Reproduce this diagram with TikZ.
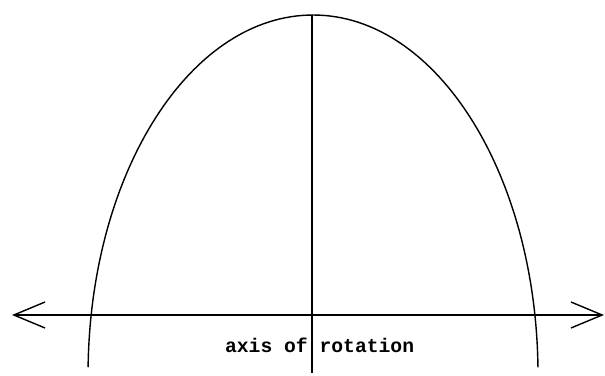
\documentclass[tikz,border=0pt]{standalone}
\usepackage{fontspec}
\setmonofont{Liberation Mono}
\usetikzlibrary{arrows.meta, positioning}

\begin{document}
\begin{tikzpicture}[
  line/.style={line width=1pt, draw=black},
  curve/.style={line, line cap=round},
  arrow/.style={line, {Straight Barb[length=7.8mm, width=6.5mm]}-{Straight Barb[length=7.8mm, width=6.5mm]}},
  caption/.style={font=\ttfamily\bfseries\fontsize{14}{16}\selectfont, inner sep=0pt, anchor=base}
]
\useasboundingbox (0,0) rectangle (15.125,9.375);

% Axis end points
\coordinate (left)   at (0.3, 1.5);
\coordinate (right)  at (15.1, 1.5);
\coordinate (top)    at (7.8, 9.0);
\coordinate (bottom) at (7.8, 0.05);
\coordinate (rim)    at (13.449, 0.204);

% Label under the axis
\node[caption] (label) at (7.99, 0.575) {axis of rotation};

% Curve: half ellipse over the axis
\draw[curve] (rim) arc[start angle=1.3, end angle=178.7, x radius=5.625, y radius=9];

% Vertical line through the top
\draw[line] (top) -- (bottom);

% Double arrow: the axis
\draw[arrow] (left) -- (right);

\end{tikzpicture}
\end{document}
